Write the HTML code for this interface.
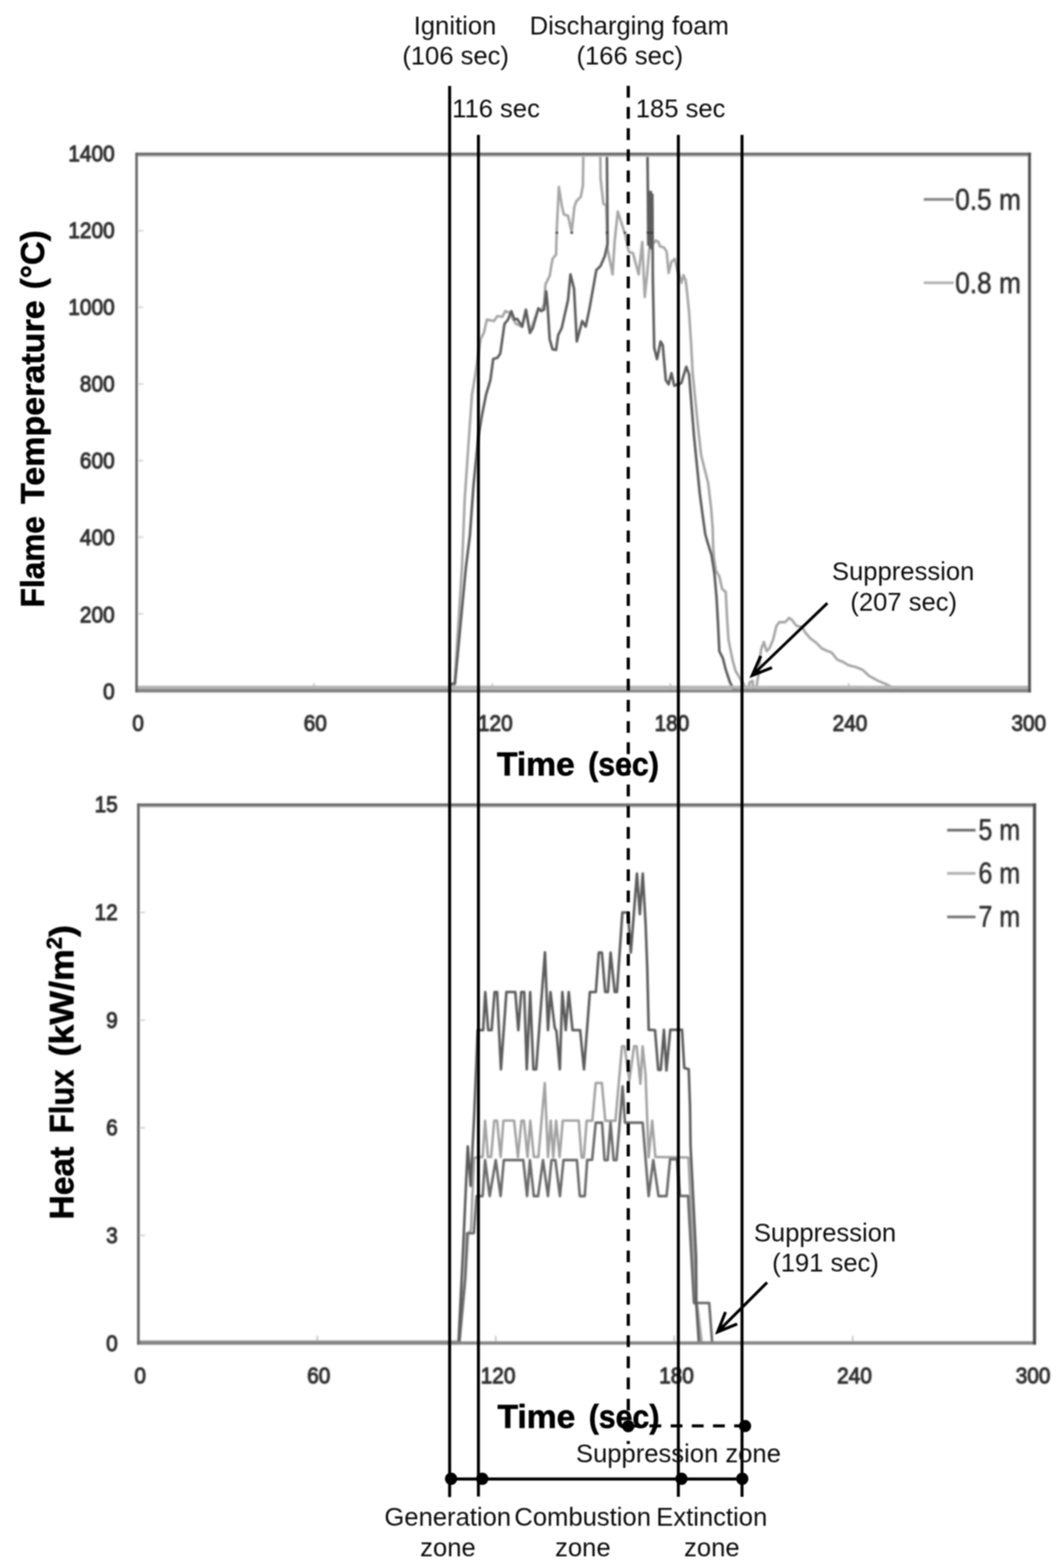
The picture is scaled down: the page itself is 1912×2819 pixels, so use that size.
<!DOCTYPE html>
<html lang="en"><head><meta charset="utf-8"><title>Flame temperature and heat flux over time</title>
<style>html,body{margin:0;padding:0;background:#fff}svg{display:block}text{font-family:"Liberation Sans",sans-serif}.tk{font-size:41.5px;fill:#303030;stroke:#303030;stroke-width:1.9px;stroke-linejoin:round}.lg{font-size:53px;fill:#2e2e2e;stroke:#2e2e2e;stroke-width:0.9px}.an{font-size:46px;fill:#111}.ti{font-size:60px;font-weight:bold;fill:#000;stroke:#000;stroke-width:1px}</style></head><body>
<svg width="1912" height="2819" viewBox="0 0 1912 2819">
<defs><filter id="b1" x="-5%" y="-5%" width="110%" height="110%"><feGaussianBlur stdDeviation="1.8"/></filter><filter id="b2" x="-5%" y="-5%" width="110%" height="110%"><feGaussianBlur stdDeviation="0.9"/></filter></defs>
<rect x="0" y="0" width="1912" height="2819" fill="#fff"/>
<g filter="url(#b1)">
<line x1="247.4" y1="1103.5" x2="257.4" y2="1103.5" stroke="#d4d4d4" stroke-width="3"/>
<line x1="247.4" y1="965.8" x2="257.4" y2="965.8" stroke="#d4d4d4" stroke-width="3"/>
<line x1="247.4" y1="828.0" x2="257.4" y2="828.0" stroke="#d4d4d4" stroke-width="3"/>
<line x1="247.4" y1="690.3" x2="257.4" y2="690.3" stroke="#d4d4d4" stroke-width="3"/>
<line x1="247.4" y1="552.5" x2="257.4" y2="552.5" stroke="#d4d4d4" stroke-width="3"/>
<line x1="247.4" y1="414.8" x2="257.4" y2="414.8" stroke="#d4d4d4" stroke-width="3"/>
<line x1="564.3" y1="1228.3" x2="564.3" y2="1239.3" stroke="#c8c8c8" stroke-width="3"/>
<line x1="884.6" y1="1228.3" x2="884.6" y2="1239.3" stroke="#c8c8c8" stroke-width="3"/>
<line x1="1204.9" y1="1228.3" x2="1204.9" y2="1239.3" stroke="#c8c8c8" stroke-width="3"/>
<line x1="1525.2" y1="1228.3" x2="1525.2" y2="1239.3" stroke="#c8c8c8" stroke-width="3"/>
<polyline points="246.0,1236.5 815.0,1236.5 817.0,1228.0 830.2,1020.0 835.0,899.0 841.9,797.7 848.2,708.8 854.6,670.8 863.5,610.1 869.8,597.4 874.9,574.6 887.6,577.1 893.9,568.2 902.8,569.5 907.9,559.3 915.5,561.9 926.9,582.2 938.3,587.3 944.7,556.8 952.3,597.4 967.5,554.3 972.6,559.3 977.7,546.6 980.2,511.1 987.8,495.9 992.9,465.4 999.2,457.8 1000.5,412.1 1004.3,336.0 1009.4,369.0 1013.2,385.5 1020.8,388.0 1027.2,417.2 1032.2,371.5 1036.0,361.4 1043.7,353.8 1047.5,333.5 1048.2,277.0 1078.7,277.0 1079.2,320.8 1084.3,366.4 1089.3,369.0 1091.9,447.7 1100.8,493.4 1104.6,432.4 1110.2,380.4 1123.6,422.3 1129.9,452.7 1137.6,455.3 1147.7,493.4 1154.1,435.0 1158.6,534.0 1162.9,493.4 1166.8,447.7 1178.2,432.4 1183.2,435.0 1185.8,442.6 1193.4,445.1 1198.0,452.7 1201.5,490.8 1206.6,470.5 1212.9,465.4 1216.8,483.2 1224.4,508.6 1228.2,494.6 1232.0,503.5 1234.5,523.8 1238.3,561.9 1242.0,620.0 1244.7,670.8 1249.7,721.5 1254.8,772.3 1259.9,818.0 1266.2,843.4 1272.6,868.7 1277.7,911.9 1280.7,950.0 1281.5,983.0 1282.7,1000.7 1286.3,1026.0 1292.6,1036.1 1297.7,1059.0 1304.1,1064.1 1306.6,1112.3 1309.1,1150.4 1316.8,1188.4 1321.8,1206.2 1329.4,1218.9 1338.0,1233.0 1344.7,1239.2 1347.2,1226.5 1352.3,1224.0 1353.6,1239.2 1358.6,1239.2 1362.4,1216.3 1367.5,1168.1 1372.6,1154.2 1377.7,1170.7 1382.7,1165.6 1389.1,1150.4 1395.4,1125.0 1400.5,1118.6 1410.7,1118.6 1418.3,1111.0 1423.4,1114.8 1431.0,1125.0 1441.1,1127.5 1447.5,1137.7 1456.3,1147.8 1466.5,1155.4 1476.6,1165.6 1484.3,1169.4 1494.4,1173.2 1504.6,1185.9 1514.7,1190.0 1524.9,1196.0 1537.6,1199.2 1550.3,1204.3 1561.5,1215.0 1578.0,1224.0 1593.2,1230.3 1605.9,1237.9 1613.5,1240.0" fill="none" stroke="#a6a6a6" stroke-width="4.6" stroke-linejoin="round" stroke-linecap="butt" />
<polyline points="246.0,1241.0 810.0,1241.0 810.5,1229.5 817.5,1229.0 837.2,1020.0 844.4,962.6 850.8,873.8 859.6,785.0 866.0,746.9 873.6,708.8 881.2,683.5 886.3,645.4 893.9,643.1 899.0,635.5 906.6,582.2 912.9,574.6 918.8,559.3 924.4,574.6 929.4,573.3 938.3,587.3 945.2,556.8 952.3,598.7 957.4,589.8 967.5,554.3 972.6,559.3 977.7,556.8 981.5,523.8 984.0,549.2 987.8,610.1 992.9,627.9 999.2,629.1 1003.0,602.5 1009.4,589.8 1020.8,539.0 1025.1,493.4 1031.5,518.7 1036.5,613.9 1046.2,577.1 1052.5,587.3 1058.9,556.8 1071.6,485.7 1079.2,478.1 1086.8,460.4 1091.9,437.5 1091.4,371.5 1090.6,277.0 1163.5,277.0 1164.2,343.0 1165.0,440.0 1166.5,345.0 1168.0,445.0 1169.5,345.0 1171.0,447.0 1172.3,350.0 1173.1,498.4 1175.6,625.3 1180.7,645.6 1187.1,613.9 1190.9,620.3 1196.4,683.5 1201.5,691.0 1206.6,670.8 1211.7,693.6 1224.4,688.5 1233.2,659.3 1238.3,673.3 1242.1,721.5 1247.2,785.0 1252.3,835.7 1257.4,886.5 1262.4,924.6 1267.3,960.0 1272.3,977.8 1278.7,998.1 1283.8,1031.1 1287.6,1074.2 1290.1,1117.4 1292.6,1170.7 1299.0,1183.4 1304.1,1203.7 1311.7,1226.5 1318.0,1239.0 1324.4,1241.0 1849.0,1241.0" fill="none" stroke="#5c5c5c" stroke-width="4.6" stroke-linejoin="round" stroke-linecap="butt" />
<rect x="998.6" y="416.6" width="4.4" height="3.6" fill="#2a2a2a"/>
<rect x="1025.3" y="416.6" width="4.4" height="3.6" fill="#2a2a2a"/>
<rect x="1088.6" y="416.6" width="4.4" height="3.6" fill="#2a2a2a"/>
<rect x="1121.0" y="416.6" width="4.4" height="3.6" fill="#2a2a2a"/>
<rect x="1162.3" y="416.6" width="4.4" height="3.6" fill="#2a2a2a"/>
<rect x="1168.3" y="416.6" width="4.4" height="3.6" fill="#2a2a2a"/>
<line x1="243" y1="1235.8" x2="1852" y2="1235.8" stroke="#b4b4b4" stroke-width="6"/>
<line x1="245.4" y1="280.40000000000003" x2="1850" y2="280.40000000000003" stroke="#c4c4c4" stroke-width="3"/>
<line x1="243.20000000000002" y1="1242.2" x2="1852.5" y2="1242.2" stroke="#858585" stroke-width="5.6"/>
<line x1="245.4" y1="274.4" x2="245.4" y2="1245.0" stroke="#606060" stroke-width="4.4"/>
<line x1="243.20000000000002" y1="277" x2="1852.5" y2="277" stroke="#666" stroke-width="5.2"/>
<line x1="1850" y1="274.4" x2="1850" y2="1245.0" stroke="#4a4a4a" stroke-width="5.0"/>
<line x1="1660" y1="358.5" x2="1714" y2="358.5" stroke="#888" stroke-width="4.8"/>
<line x1="1660" y1="508.3" x2="1714" y2="508.3" stroke="#b0b0b0" stroke-width="4.8"/>
<text class="lg" x="1716.5" y="377" textLength="118" lengthAdjust="spacingAndGlyphs">0.5 m</text>
<text class="lg" x="1716.5" y="526.5" textLength="118" lengthAdjust="spacingAndGlyphs">0.8 m</text>
<text class="tk" x="185.2" y="1256.7" textLength="20.8" lengthAdjust="spacingAndGlyphs">0</text>
<text class="tk" x="143.6" y="1118.5" textLength="62.4" lengthAdjust="spacingAndGlyphs">200</text>
<text class="tk" x="143.6" y="980.4" textLength="62.4" lengthAdjust="spacingAndGlyphs">400</text>
<text class="tk" x="143.6" y="842.2" textLength="62.4" lengthAdjust="spacingAndGlyphs">600</text>
<text class="tk" x="143.6" y="704.1" textLength="62.4" lengthAdjust="spacingAndGlyphs">800</text>
<text class="tk" x="122.8" y="566.0" textLength="83.2" lengthAdjust="spacingAndGlyphs">1000</text>
<text class="tk" x="122.8" y="427.8" textLength="83.2" lengthAdjust="spacingAndGlyphs">1200</text>
<text class="tk" x="122.8" y="289.6" textLength="83.2" lengthAdjust="spacingAndGlyphs">1400</text>
<text class="tk" x="237.8" y="1313.5" textLength="20.8" lengthAdjust="spacingAndGlyphs">0</text>
<text class="tk" x="545.7" y="1313.5" textLength="41.6" lengthAdjust="spacingAndGlyphs">60</text>
<text class="tk" x="858.8" y="1313.5" textLength="62.4" lengthAdjust="spacingAndGlyphs">120</text>
<text class="tk" x="1176.2" y="1313.5" textLength="62.4" lengthAdjust="spacingAndGlyphs">180</text>
<text class="tk" x="1496.2" y="1313.5" textLength="62.4" lengthAdjust="spacingAndGlyphs">240</text>
<text class="tk" x="1817.5" y="1313.5" textLength="62.4" lengthAdjust="spacingAndGlyphs">300</text>
</g>
<g filter="url(#b1)">
<line x1="250.7" y1="2221.0" x2="260.7" y2="2221.0" stroke="#d4d4d4" stroke-width="3"/>
<line x1="250.7" y1="2027.5" x2="260.7" y2="2027.5" stroke="#d4d4d4" stroke-width="3"/>
<line x1="250.7" y1="1834.0" x2="260.7" y2="1834.0" stroke="#d4d4d4" stroke-width="3"/>
<line x1="250.7" y1="1640.5" x2="260.7" y2="1640.5" stroke="#d4d4d4" stroke-width="3"/>
<line x1="570.2" y1="2401.5" x2="570.2" y2="2412.5" stroke="#c8c8c8" stroke-width="3"/>
<line x1="890.9" y1="2401.5" x2="890.9" y2="2412.5" stroke="#c8c8c8" stroke-width="3"/>
<line x1="1211.6" y1="2401.5" x2="1211.6" y2="2412.5" stroke="#c8c8c8" stroke-width="3"/>
<line x1="1532.3" y1="2401.5" x2="1532.3" y2="2412.5" stroke="#c8c8c8" stroke-width="3"/>
<polyline points="249.0,2412.0 826.0,2412.0 836.5,2300.0 841.0,2222.0 846.5,2210.0 848.7,2153.0 852.0,2082.0 862.8,2080.0 867.3,2080.0 871.7,2014.6 876.8,2080.0 882.5,2080.0 888.2,2014.6 893.3,2014.6 899.6,2080.0 904.7,2014.6 923.8,2014.6 930.7,2080.0 937.1,2014.6 941.5,2014.6 947.9,2080.0 952.9,2014.6 959.3,2080.0 967.5,2080.0 979.0,1947.0 984.7,2080.0 989.7,2014.6 994.2,2080.0 999.3,2014.6 1005.6,2080.0 1011.3,2014.6 1040.0,2014.6 1045.1,2081.0 1049.1,2081.0 1054.2,2015.0 1064.4,2015.0 1070.5,1947.0 1081.6,1947.0 1087.7,2015.0 1106.0,2015.0 1114.3,1920.0 1117.7,1881.0 1122.3,1881.0 1131.0,1942.0 1139.4,1881.0 1144.0,1881.0 1150.8,1948.5 1154.8,1881.0 1160.0,1931.0 1165.6,2080.6 1172.0,2014.6 1177.7,2080.0 1237.1,2081.0 1241.0,2160.0 1246.5,2260.0 1249.5,2345.0 1253.0,2347.0 1261.0,2414.0" fill="none" stroke="#a2a2a2" stroke-width="4.4" stroke-linejoin="round" stroke-linecap="butt" />
<polyline points="249.0,2415.0 825.0,2415.0 835.5,2300.0 839.5,2217.0 851.5,2217.0 856.5,2150.4 867.3,2150.4 871.7,2085.6 880.0,2150.4 890.8,2085.6 899.6,2150.4 905.4,2085.6 940.3,2085.6 947.2,2150.4 952.3,2085.6 959.3,2150.4 966.9,2150.4 975.8,2085.6 984.7,2150.4 991.0,2085.6 998.0,2085.6 1006.2,2150.4 1012.6,2085.6 1036.7,2085.6 1041.9,2150.4 1050.8,2150.4 1055.2,2085.6 1064.1,2085.0 1070.5,2018.4 1081.9,2018.4 1086.3,2085.6 1092.0,2085.6 1097.1,2018.4 1102.8,2085.6 1107.9,2085.6 1113.6,2018.4 1118.8,1953.0 1123.1,2018.4 1154.8,2018.4 1165.6,2150.4 1173.9,2085.6 1183.4,2150.4 1197.8,2150.4 1204.1,2084.1 1216.8,2084.1 1221.9,2150.1 1236.5,2150.1 1238.4,2187.0 1242.5,2260.0 1247.0,2342.5 1274.4,2342.5 1279.8,2414.0" fill="none" stroke="#6a6a6a" stroke-width="4.6" stroke-linejoin="round" stroke-linecap="butt" />
<polyline points="249.0,2414.0 824.0,2414.0 832.5,2240.0 836.5,2150.0 840.6,2061.0 845.8,2132.0 852.2,2003.0 858.5,1852.0 868.2,1852.0 872.0,1783.5 877.3,1852.0 883.4,1852.0 888.7,1783.5 893.3,1783.5 900.2,1922.5 910.0,1783.5 926.0,1783.5 931.4,1852.0 936.7,1783.5 942.0,1783.5 946.6,1922.5 952.7,1783.5 958.5,1922.5 963.5,1922.5 979.3,1712.0 984.7,1852.0 989.2,1783.5 996.8,1847.5 999.9,1853.6 1006.0,1922.5 1010.5,1783.5 1016.6,1852.0 1022.0,1783.5 1028.8,1852.0 1042.5,1852.0 1049.4,1922.5 1060.0,1783.5 1070.7,1783.5 1076.0,1712.6 1081.6,1712.6 1087.5,1783.5 1092.5,1783.5 1097.2,1712.6 1104.6,1783.5 1108.7,1783.5 1118.4,1640.5 1128.5,1640.5 1133.6,1712.6 1144.6,1570.5 1149.8,1643.6 1155.0,1570.5 1160.2,1661.8 1163.2,1743.0 1165.7,1851.4 1177.1,1852.0 1182.8,1923.4 1187.4,1923.4 1193.1,1851.4 1197.6,1924.5 1204.5,1851.4 1225.6,1851.4 1229.6,1920.0 1237.6,1922.2 1239.9,1988.5 1240.9,2060.0 1244.7,2136.0 1248.5,2212.0 1250.8,2260.0 1251.3,2345.0 1256.0,2414.0 1858.0,2414.0" fill="none" stroke="#5c5c5c" stroke-width="4.6" stroke-linejoin="round" stroke-linecap="butt" />
<line x1="248.7" y1="1450.3999999999999" x2="1859" y2="1450.3999999999999" stroke="#c4c4c4" stroke-width="3"/>
<line x1="246.39999999999998" y1="2414.5" x2="1861.7" y2="2414.5" stroke="#858585" stroke-width="6.0"/>
<line x1="248.7" y1="1444.4" x2="248.7" y2="2417.5" stroke="#606060" stroke-width="4.6"/>
<line x1="246.39999999999998" y1="1447" x2="1861.7" y2="1447" stroke="#666" stroke-width="5.2"/>
<line x1="1859" y1="1444.4" x2="1859" y2="2417.5" stroke="#444" stroke-width="5.4"/>
<line x1="1702" y1="1492.5" x2="1753" y2="1492.5" stroke="#707070" stroke-width="5"/>
<text class="lg" x="1758.3" y="1509.8" textLength="75" lengthAdjust="spacingAndGlyphs">5 m</text>
<line x1="1702" y1="1570.3" x2="1753" y2="1570.3" stroke="#b0b0b0" stroke-width="5"/>
<text class="lg" x="1758.3" y="1587.6" textLength="75" lengthAdjust="spacingAndGlyphs">6 m</text>
<line x1="1702" y1="1648.5" x2="1753" y2="1648.5" stroke="#787878" stroke-width="5"/>
<text class="lg" x="1758.3" y="1665.8" textLength="75" lengthAdjust="spacingAndGlyphs">7 m</text>
<text class="tk" x="190.7" y="2428.6" textLength="20.8" lengthAdjust="spacingAndGlyphs">0</text>
<text class="tk" x="190.7" y="2234.9" textLength="20.8" lengthAdjust="spacingAndGlyphs">3</text>
<text class="tk" x="190.7" y="2041.2" textLength="20.8" lengthAdjust="spacingAndGlyphs">6</text>
<text class="tk" x="190.7" y="1847.5" textLength="20.8" lengthAdjust="spacingAndGlyphs">9</text>
<text class="tk" x="169.9" y="1653.8" textLength="41.6" lengthAdjust="spacingAndGlyphs">12</text>
<text class="tk" x="169.9" y="1460.1" textLength="41.6" lengthAdjust="spacingAndGlyphs">15</text>
<text class="tk" x="241.4" y="2486.5" textLength="20.8" lengthAdjust="spacingAndGlyphs">0</text>
<text class="tk" x="551.9" y="2486.5" textLength="41.6" lengthAdjust="spacingAndGlyphs">60</text>
<text class="tk" x="863.8" y="2486.5" textLength="62.4" lengthAdjust="spacingAndGlyphs">120</text>
<text class="tk" x="1184.5" y="2486.5" textLength="62.4" lengthAdjust="spacingAndGlyphs">180</text>
<text class="tk" x="1504.3" y="2486.5" textLength="62.4" lengthAdjust="spacingAndGlyphs">240</text>
<text class="tk" x="1825.2" y="2486.5" textLength="62.4" lengthAdjust="spacingAndGlyphs">300</text>
</g>
<g filter="url(#b2)">
<text class="ti" style="font-size:60px" transform="translate(79.2,1092) rotate(-90)"><tspan x="0.0" y="0" textLength="164" lengthAdjust="spacingAndGlyphs">Flame</tspan> <tspan x="186.0" y="0" textLength="366" lengthAdjust="spacingAndGlyphs">Temperature</tspan> <tspan x="572.0" y="0" textLength="106" lengthAdjust="spacingAndGlyphs">(°C)</tspan></text>
<text class="ti" style="font-size:62px" transform="translate(131.8,2192.5) rotate(-90)"><tspan x="0.0" y="0" textLength="131" lengthAdjust="spacingAndGlyphs">Heat</tspan> <tspan x="155.2" y="0" textLength="114.5" lengthAdjust="spacingAndGlyphs">Flux</tspan> <tspan x="293.0" y="0" textLength="236.5" lengthAdjust="spacingAndGlyphs">(kW/m<tspan font-size="38" dy="-21">2</tspan><tspan dy="21">)</tspan></tspan></text>
<text class="ti" y="1394"><tspan x="893" textLength="140" lengthAdjust="spacingAndGlyphs">Time</tspan> <tspan x="1057" textLength="127" lengthAdjust="spacingAndGlyphs">(sec)</tspan></text>
<text class="ti" y="2566.5"><tspan x="894" textLength="140" lengthAdjust="spacingAndGlyphs">Time</tspan> <tspan x="1058" textLength="127" lengthAdjust="spacingAndGlyphs">(sec)</tspan></text>
</g>
<g filter="url(#b2)">
<line x1="808" y1="154.5" x2="808" y2="2691.5" stroke="#000" stroke-width="5.4"/>
<line x1="859.7" y1="242.5" x2="859.7" y2="2690.5" stroke="#000" stroke-width="5.4"/>
<line x1="1219" y1="242.5" x2="1219" y2="2691" stroke="#000" stroke-width="5.4"/>
<line x1="1333.4" y1="242.5" x2="1333.4" y2="2691" stroke="#000" stroke-width="5.4"/>
<line x1="1129" y1="154.3" x2="1129" y2="2596" stroke="#000" stroke-width="5.8" stroke-dasharray="21.2 16.87"/>
<line x1="1129" y1="2563.5" x2="1340" y2="2563.5" stroke="#000" stroke-width="5.3" stroke-dasharray="21.2 16.87"/>
<line x1="808" y1="2659" x2="1333.4" y2="2659" stroke="#000" stroke-width="5.3"/>
<circle cx="810.6" cy="2658.6" r="11" fill="#000"/>
<circle cx="866.6" cy="2658.6" r="11" fill="#000"/>
<circle cx="1224.6" cy="2658.6" r="11" fill="#000"/>
<circle cx="1333.8" cy="2658.6" r="11" fill="#000"/>
<circle cx="1129" cy="2564" r="11" fill="#000"/>
<circle cx="1338.8" cy="2563.8" r="11" fill="#000"/>
<line x1="1486.8" y1="1084.4" x2="1354.6" y2="1211.5" stroke="#000" stroke-width="5.2"/>
<polyline points="1367,1179.3 1351.7,1214.3 1387.3,1200.2" fill="none" stroke="#000" stroke-width="5.4" stroke-linejoin="miter"/>
<polygon points="1351.7,1214.3 1358.1,1199.6 1366.7,1208.4" fill="#000"/>
<line x1="1378.5" y1="2305.7" x2="1292.4" y2="2391.7" stroke="#000" stroke-width="5.2"/>
<polyline points="1303.7,2358.7 1289.6,2394.5 1324.7,2380.2" fill="none" stroke="#000" stroke-width="5.4" stroke-linejoin="miter"/>
<polygon points="1289.6,2394.5 1295.5,2379.5 1304.3,2388.5" fill="#000"/>
<text class="an"><tspan x="743.5" y="61.5">Ignition</tspan> <tspan x="722.9" y="115.5">(106 sec)</tspan></text>
<text class="an"><tspan x="951.8" y="61.5">Discharging foam</tspan> <tspan x="1035.9" y="115.5">(166 sec)</tspan></text>
<text class="an" x="812.5" y="211">116 sec</text>
<text class="an" x="1142.5" y="211">185 sec</text>
<text class="an"><tspan x="1495.1" y="1042.5">Suppression</tspan> <tspan x="1528.1" y="1098.3">(207 sec)</tspan></text>
<text class="an"><tspan x="1354.7" y="2232.2">Suppression</tspan> <tspan x="1387.6" y="2286.2">(191 sec)</tspan></text>
<text class="an" x="1035" y="2628.5">Suppression zone</text>
<text class="an"><tspan x="690.8" y="2742.7">Generation</tspan> <tspan x="755.1" y="2797.5">zone</tspan></text>
<text class="an"><tspan x="924.3" y="2742.7">Combustion</tspan> <tspan x="997.5" y="2797.5">zone</tspan></text>
<text class="an"><tspan x="1179.3" y="2742.7">Extinction</tspan> <tspan x="1229.3" y="2797.5">zone</tspan></text>
</g>
</svg></body></html>
